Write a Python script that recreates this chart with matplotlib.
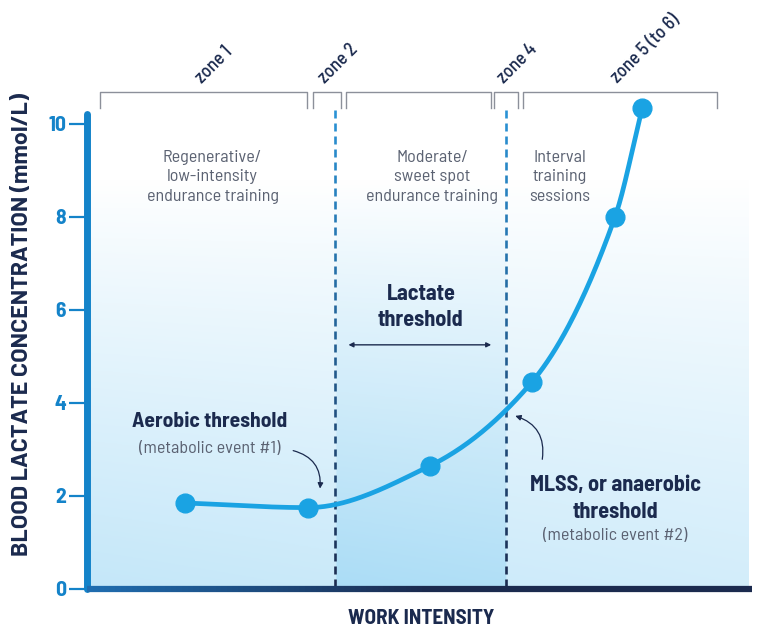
import numpy as np
import matplotlib
matplotlib.use("Agg")
import matplotlib.pyplot as plt
from matplotlib import font_manager as fm
from matplotlib.collections import LineCollection
from matplotlib.colors import to_rgb
from matplotlib.patches import FancyArrowPatch

installed = {f.name for f in fm.fontManager.ttflist}
prefs = ['Barlow Semi Condensed', 'Barlow Condensed', 'Roboto Condensed',
         'Liberation Sans Narrow', 'DejaVu Sans']
FONT = next(p for p in prefs if p in installed)
WIDE = 'Barlow' if 'Barlow' in installed else FONT
plt.rcParams['font.family'] = [FONT, 'DejaVu Sans']

# data (x: work intensity 0-100, y: mmol/L)
work = [14.7, 33.2, 51.6, 66.9, 79.4, 83.5]
lactate = [1.85, 1.75, 2.65, 4.45, 8.0, 10.35]
thresholds = [37.3, 63.0]
zone_names = ["zone 1", "zone 2", "", "zone 4", "zone 5 (to 6)"]
zone_start = [2.0, 34.0, 38.9, 61.2, 65.6]
zone_end = [33.1, 38.2, 60.8, 64.8, 94.7]
yticks = [0, 2, 4, 6, 8, 10]

BLUE = "#1aa3e3"
AXBLUE = "#1483c9"
NAVY = "#1b2a4e"
GRAY = "#5b6272"


def pchip(xs, ys, n=60):
    xs = np.asarray(xs, float)
    ys = np.asarray(ys, float)
    h = np.diff(xs)
    d = np.diff(ys) / h
    m = np.zeros_like(ys)
    m[0], m[-1] = d[0], d[-1]
    for k in range(1, len(xs) - 1):
        if d[k - 1] * d[k] > 0:
            w1 = 2 * h[k] + h[k - 1]
            w2 = h[k] + 2 * h[k - 1]
            m[k] = (w1 + w2) / (w1 / d[k - 1] + w2 / d[k])
    ox, oy = [], []
    for i in range(len(xs) - 1):
        t = np.linspace(0, 1, n)
        hi = h[i]
        h00 = 2 * t**3 - 3 * t**2 + 1
        h10 = t**3 - 2 * t**2 + t
        h01 = -2 * t**3 + 3 * t**2
        h11 = t**3 - t**2
        ox.extend(xs[i] + t * hi)
        oy.extend(h00 * ys[i] + h10 * hi * m[i] + h01 * ys[i + 1] + h11 * hi * m[i + 1])
    return np.array(ox), np.array(oy)


fig = plt.figure(figsize=(7.59, 6.34), dpi=100)
ax = fig.add_axes([87 / 759, 45 / 634, 665 / 759, 486 / 634])
XMAX, YMAX = 100, 10.45
ax.set_xlim(0, XMAX)
ax.set_ylim(0, YMAX)

# background gradient
ny, nx = 200, 300
yy = np.linspace(1, 0, ny)[:, None]
xx = np.linspace(0, 99.4, nx)[None, :]
top = np.array(to_rgb("#ffffff"))
bot = np.array(to_rgb("#c4e7f9"))
band = np.array(to_rgb("#a2d9f5"))
f = np.clip(1 - yy / 0.85, 0, 1) ** 0.9
f = f * (1 - 0.25 * xx / 100)
inband = ((xx >= thresholds[0]) & (xx <= thresholds[1])).astype(float)
colr = bot[None, None, :] * (1 - inband[..., None]) + band[None, None, :] * inband[..., None]
img = top[None, None, :] * (1 - f[..., None]) + colr * f[..., None]
ax.imshow(img, extent=[0, 99.4, 0, 10.3], aspect='auto', zorder=0, origin='upper')

# threshold dashed lines with blue->navy gradient
c_top = np.array(to_rgb("#2a93d6"))
c_bot = np.array(to_rgb(NAVY))
for xt in thresholds:
    segs, cols = [], []
    y = 10.3
    while y > 0:
        y2 = max(y - 0.17, 0)
        segs.append([(xt, y), (xt, y2)])
        k = 1 - (y + y2) / 2 / 10.3
        cols.append(c_top * (1 - k) + c_bot * k)
        y -= 0.28
    ax.add_collection(LineCollection(segs, colors=cols, linewidths=1.9, zorder=2))

# curve
sx, sy = pchip(work, lactate)
ax.plot(sx, sy, color=BLUE, lw=3.4, zorder=3, solid_capstyle='round')
ax.plot(work, lactate, 'o', color=BLUE, ms=13.5, zorder=4, clip_on=False)

# axes styling
for s in ["top", "right", "bottom"]:
    ax.spines[s].set_visible(False)
ax.spines["left"].set_color(AXBLUE)
ax.spines["left"].set_linewidth(5)
ax.spines["left"].set_bounds(0, 10.22)
ax.spines["left"].set_capstyle('round')
ax.set_xticks([])
ax.set_yticks(yticks)
ax.tick_params(axis='y', length=13, width=1.6, color=AXBLUE, pad=2, labelcolor=AXBLUE)
for lab in ax.get_yticklabels():
    lab.set_fontsize(15.5)
    lab.set_fontweight('bold')

# bottom axis with gradient
xs = np.linspace(0, XMAX, 120)
segs = [[(xs[i], 0), (xs[i + 1], 0)] for i in range(len(xs) - 1)]
cb = np.array(to_rgb("#1f6db0"))
cols = [cb * (1 - min(1, i / 60)) + c_bot * min(1, i / 60) for i in range(len(segs))]
ax.add_collection(LineCollection(segs, colors=cols, linewidths=4.5, zorder=5, clip_on=False))

# zone brackets
for a, b, name in zip(zone_start, zone_end, zone_names):
    ax.plot([a, a, b, b], [10.34, 10.69, 10.69, 10.34], color="#8c909a", lw=1, clip_on=False)
    if name:
        ax.text((a + b) / 2 - 0.3, 10.86, name, rotation=45, rotation_mode='anchor',
                ha='left', va='baseline', fontsize=13.5, fontweight='medium',
                color=NAVY, clip_on=False)

# zone descriptions
tk = dict(ha='center', va='center', fontsize=13, color=GRAY, linespacing=1.4)
ax.text(18.9, 8.86, "Regenerative/\nlow-intensity\nendurance training", **tk)
ax.text(51.9, 8.86, "Moderate/\nsweet spot\nendurance training", **tk)
ax.text(71.1, 8.86, "Interval\ntraining\nsessions", **tk)

ax.text(50.2, 6.07, "Lactate\nthreshold", ha='center', va='center', fontsize=16,
        fontweight='bold', color=NAVY, linespacing=1.4)
ax.annotate("", xy=(38.9, 5.25), xytext=(61.2, 5.25),
            arrowprops=dict(arrowstyle='<|-|>', color=NAVY, lw=1, mutation_scale=7))

ax.text(18.5, 3.61, "Aerobic threshold", ha='center', va='center', fontsize=15.5,
        fontweight='bold', color=NAVY)
ax.text(18.5, 3.03, "(metabolic event #1)", ha='center', va='center', fontsize=13, color=GRAY)
ax.add_patch(FancyArrowPatch((30.6, 2.99), (35.0, 2.1), connectionstyle="arc3,rad=-0.45",
                             arrowstyle='-|>', mutation_scale=8, color=NAVY, lw=0.9, zorder=6))

ax.text(79.4, 1.95, "MLSS, or anaerobic\nthreshold", ha='center', va='center', fontsize=16,
        fontweight='bold', color=NAVY, linespacing=1.4)
ax.text(79.4, 1.14, "(metabolic event #2)", ha='center', va='center', fontsize=13, color=GRAY)
ax.add_patch(FancyArrowPatch((68.4, 2.73), (64.0, 3.74), connectionstyle="arc3,rad=0.45",
                             arrowstyle='-|>', mutation_scale=8, color=NAVY, lw=0.9, zorder=6))

fig.text(421 / 759, 1 - 619 / 634, "WORK INTENSITY", ha='center', va='center',
         fontsize=15.2, fontweight='bold', color=NAVY)
fig.text(22 / 759, 1 - 325 / 634, "BLOOD LACTATE CONCENTRATION (mmol/L)", rotation=90,
         ha='center', va='center', fontsize=16.8, fontweight='bold', color=NAVY,
         family=[WIDE, 'DejaVu Sans'])

fig.savefig("out.png", dpi=100)
